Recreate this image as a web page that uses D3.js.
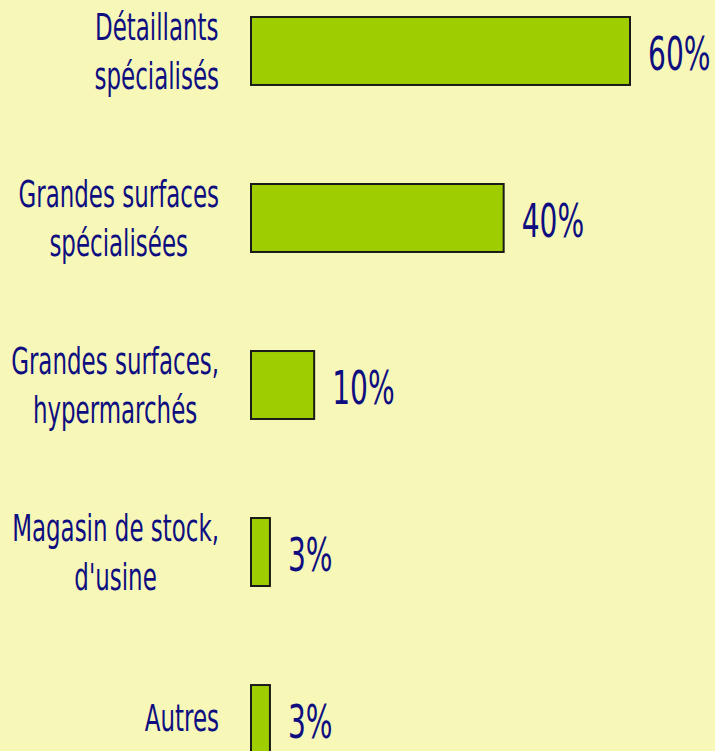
<!DOCTYPE html>
<html><head><meta charset="utf-8">
<script src="https://cdn.jsdelivr.net/npm/d3@7"></script>
<style>
html,body{margin:0;padding:0;background:#f7f8b8;}
svg{display:block;}
</style></head>
<body>
<script>
const categories = [
  ["Détaillants", "spécialisés"],
  ["Grandes surfaces", "spécialisées"],
  ["Grandes surfaces,", "hypermarchés"],
  ["Magasin de stock,", "d'usine"],
  ["Autres"]
];
const values = [60, 40, 10, 3, 3];
const valueLabels = ["60%", "40%", "10%", "3%", "3%"];

const W = 715, H = 751;
const svg = d3.select("body").append("svg").attr("width", W).attr("height", H);
svg.append("rect").attr("width", W).attr("height", H).attr("fill", "#f7f8b8");

const idx = d3.range(values.length);
const x = d3.scaleLinear().domain([0, 60]).range([251, 630]);
const y = d3.scaleBand().domain(idx).range([17, 753]).paddingInner(0.593).paddingOuter(0);

const font = "'DejaVu Sans Condensed', 'DejaVu Sans', sans-serif";
const textColor = "#0e0e80";

svg.selectAll("rect.bar").data(idx).join("rect")
  .attr("class", "bar")
  .attr("x", x(0))
  .attr("y", i => y(i))
  .attr("width", i => x(values[i]) - x(0))
  .attr("height", y.bandwidth())
  .attr("fill", "#9ecd00")
  .attr("stroke", "#1a1a1a")
  .attr("stroke-width", 2);

// category labels: centered text block, right edge at labelRight
const labelSX = 0.69;
const labelRight = 219;
svg.selectAll("g.lab").data(idx).join("g")
  .attr("class", "lab")
  .each(function(i) {
    const g = d3.select(this);
    const inner = g.append("g").attr("transform", `scale(${labelSX},1)`);
    const lines = categories[i];
    const t = inner.append("text")
      .attr("text-anchor", "middle")
      .attr("font-family", font)
      .attr("font-size", 37)
      .attr("fill", textColor);
    const offs = lines.length === 2 ? [-11, 38] : [12];
    const spans = lines.map((l, k) =>
      t.append("tspan").attr("x", 0).attr("y", offs[k]).text(l));
    const maxW = d3.max(spans, s => s.node().getComputedTextLength()) * labelSX;
    g.attr("transform", `translate(${labelRight - maxW / 2},${y(i) + y.bandwidth() / 2})`);
  });

// value labels
svg.selectAll("g.val").data(idx).join("g")
  .attr("class", "val")
  .attr("transform", i => `translate(${x(values[i]) + 18},${y(i) + y.bandwidth() / 2 + 19}) scale(0.68,1)`)
  .append("text")
  .attr("font-family", font)
  .attr("font-size", 46)
  .attr("fill", textColor)
  .text(i => valueLabels[i]);
</script>
</body></html>
